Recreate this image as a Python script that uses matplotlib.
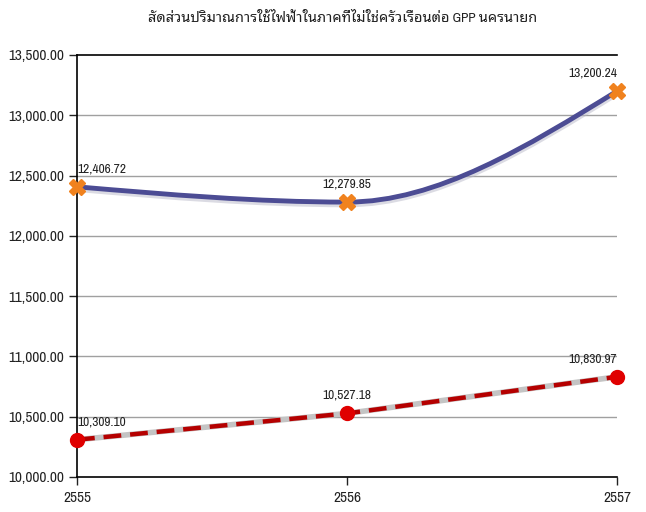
from matplotlib import pyplot as plt
from matplotlib.path import Path
from matplotlib.patches import PathPatch
from matplotlib.ticker import FuncFormatter
from matplotlib import font_manager

title = "สัดส่วนปริมาณการใช้ไฟฟ้าในภาคที่ไม่ใช่ครัวเรือนต่อ GPP นครนายก"
years = [2555, 2556, 2557]
upper = [12406.72, 12279.85, 13200.24]
lower = [10309.10, 10527.18, 10830.97]
yticks = [10000, 10500, 11000, 11500, 12000, 12500, 13000, 13500]

names = {f.name for f in font_manager.fontManager.ttflist}
narrow_pref = ["Arial Narrow", "Liberation Sans Narrow", "Pragati Narrow", "PT Sans Narrow",
               "Archivo Narrow", "Roboto Condensed", "Open Sans Condensed"]
narrow = next((n for n in narrow_pref if n in names), "DejaVu Sans")
thai_pref = ["Noto Sans Thai Looped", "Noto Sans Thai UI", "Noto Sans Thai", "Sarabun", "Loma"]
thai = next((n for n in thai_pref if n in names), "DejaVu Sans")
plt.rcParams["font.family"] = [narrow, thai, "DejaVu Sans"]

fig = plt.figure(figsize=(6.46, 5.12), dpi=100)
ax = fig.add_axes([0.1192, 0.0684, 0.8359, 0.8242])


def monotone_path(xs, ys):
    # monotone cubic as bezier segments
    n = len(xs)
    s = [(ys[i + 1] - ys[i]) / (xs[i + 1] - xs[i]) for i in range(n - 1)]
    t = [0.0] * n
    for i in range(1, n - 1):
        if s[i - 1] * s[i] > 0:
            t[i] = 2 / (1 / s[i - 1] + 1 / s[i])
    t[0] = (3 * s[0] - t[1]) / 2
    t[-1] = (3 * s[-1] - t[-2]) / 2
    verts = [(xs[0], ys[0])]
    codes = [Path.MOVETO]
    for i in range(n - 1):
        h = (xs[i + 1] - xs[i]) / 3
        verts += [(xs[i] + h, ys[i] + h * t[i]),
                  (xs[i + 1] - h, ys[i + 1] - h * t[i + 1]),
                  (xs[i + 1], ys[i + 1])]
        codes += [Path.CURVE4] * 3
    return Path(verts, codes)


for y in yticks[1:-1]:
    ax.axhline(y, color="#a0a0a0", lw=1, zorder=1)

# upper series: smooth curve with soft shadow
ax.add_patch(PathPatch(monotone_path(years, [v - 14 for v in upper]), fill=False,
                       edgecolor="#b8b8c8", lw=5, alpha=0.5, zorder=2))
ax.add_patch(PathPatch(monotone_path(years, upper), fill=False, edgecolor="#4c4c94",
                       lw=3.5, zorder=3, capstyle="round"))
ax.plot(years, upper, ls="none", marker="X", ms=11, color="#f0821e",
        markeredgecolor="#f0821e", zorder=5, clip_on=False)

# lower series: dashed red over gray
ax.plot(years, lower, color="#c4c4c4", lw=4, zorder=2)
ax.plot(years, lower, color="#b50000", lw=3.2, dashes=(4, 2), zorder=3)
ax.plot(years, lower, ls="none", marker="o", ms=10, color="#e00000",
        zorder=5, clip_on=False)

fmt = lambda v: f"{v:,.2f}"
aligns = ["left", "center", "right"]
for series in (upper, lower):
    for x, v, ha in zip(years, series, aligns):
        ax.annotate(fmt(v), (x, v), xytext=(0, 9), textcoords="offset points",
                    ha=ha, va="bottom", fontsize=10.5, color="#222222")

ax.set_xlim(2555, 2557)
ax.set_ylim(10000, 13500)
ax.set_xticks(years)
ax.set_xticklabels([str(y) for y in years])
ax.set_yticks(yticks)
ax.yaxis.set_major_formatter(FuncFormatter(lambda v, _: fmt(v)))
ax.tick_params(axis="both", labelsize=12, colors="#222222", length=6, width=1)
ax.tick_params(axis="y", pad=3)
ax.tick_params(axis="x", pad=4)
ax.spines["right"].set_visible(False)
for side in ["left", "bottom", "top"]:
    ax.spines[side].set_color("black")
    ax.spines[side].set_linewidth(1.2)

fig.text(0.531, 0.965, title, ha="center", va="center", fontsize=10.5,
         color="#222222", family=[narrow, thai, "DejaVu Sans"])

fig.savefig("out.png", dpi=100)
